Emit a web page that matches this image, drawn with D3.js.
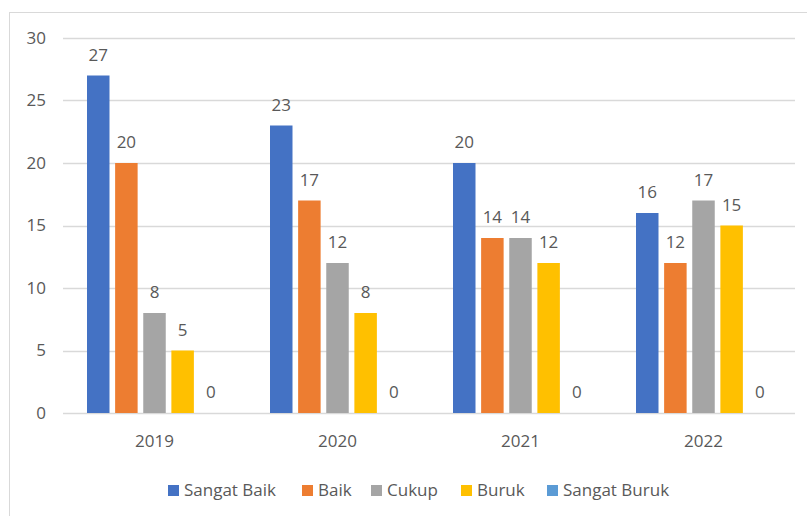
<!DOCTYPE html>
<html>
<head>
<meta charset="utf-8">
<script src="https://cdn.jsdelivr.net/npm/d3@7"></script>
<style>
  html, body { margin: 0; padding: 0; background: #fff; }
  svg { display: block; font-family: "Open Sans", sans-serif; }
</style>
</head>
<body>
<svg id="chart" width="807" height="516"></svg>
<script>
// chart data
const years = ['2019', '2020', '2021', '2022'];
const seriesNames = ['Sangat Baik', 'Baik', 'Cukup', 'Buruk', 'Sangat Buruk'];
const sangatBaik = [27, 23, 20, 16];
const baik = [20, 17, 14, 12];
const cukup = [8, 12, 14, 17];
const buruk = [5, 8, 12, 15];
const sangatBuruk = [0, 0, 0, 0];
const yTicks = [0, 5, 10, 15, 20, 25, 30];

const colors = ['#4472C4', '#ED7D31', '#A5A5A5', '#FFC000', '#5B9BD5'];
const seriesValues = [sangatBaik, baik, cukup, buruk, sangatBuruk];

const svg = d3.select('#chart');
const textColor = '#595959';
const gridColor = '#d9d9d9';

// outer chart frame (right/bottom edges fall outside the picture)
svg.append('rect')
  .attr('x', 9.5).attr('y', 12.5)
  .attr('width', 820).attr('height', 520)
  .attr('fill', 'none')
  .attr('stroke', gridColor);

const plot = { left: 63, right: 795, top: 38, bottom: 413 };

const x0 = d3.scaleBand()
  .domain(years)
  .range([plot.left, plot.right])
  .padding(0);

const x1 = d3.scaleBand()
  .domain(seriesNames)
  .range([24, x0.bandwidth() - 24])
  .paddingInner(0.2)
  .paddingOuter(0);

const y = d3.scaleLinear()
  .domain([0, 30])
  .range([plot.bottom, plot.top]);

// gridlines
svg.append('g')
  .selectAll('line')
  .data(yTicks)
  .enter()
  .append('line')
  .attr('x1', plot.left).attr('x2', plot.right)
  .attr('y1', d => Math.round(y(d)) + 0.5)
  .attr('y2', d => Math.round(y(d)) + 0.5)
  .attr('stroke', gridColor)
  .attr('stroke-width', 1.3);

// y axis labels
const yAxis = svg.append('g')
  .attr('transform', `translate(${plot.left - 17},0)`)
  .call(d3.axisLeft(y).tickValues(yTicks).tickSize(0).tickPadding(0));
yAxis.select('.domain').remove();
yAxis.selectAll('text')
  .attr('fill', textColor)
  .style('font-size', '17px')
  .style('font-family', '"Open Sans", sans-serif');

// x axis labels
const xAxis = svg.append('g')
  .attr('transform', `translate(0,${plot.bottom})`)
  .call(d3.axisBottom(x0).tickSize(0).tickPadding(22));
xAxis.select('.domain').remove();
xAxis.selectAll('text')
  .attr('fill', textColor)
  .style('font-size', '17px')
  .style('font-family', '"Open Sans", sans-serif');

// bars
const rows = [];
years.forEach((yr, i) => {
  seriesNames.forEach((s, j) => {
    rows.push({ year: yr, series: s, value: seriesValues[j][i], color: colors[j] });
  });
});

svg.append('g')
  .selectAll('rect')
  .data(rows)
  .enter()
  .append('rect')
  .attr('x', d => x0(d.year) + x1(d.series))
  .attr('y', d => y(d.value))
  .attr('width', x1.bandwidth())
  .attr('height', d => y(0) - y(d.value))
  .attr('fill', d => d.color);

// data labels
svg.append('g')
  .selectAll('text')
  .data(rows)
  .enter()
  .append('text')
  .attr('x', d => x0(d.year) + x1(d.series) + x1.bandwidth() / 2)
  .attr('y', d => y(d.value) - 15)
  .attr('text-anchor', 'middle')
  .attr('fill', textColor)
  .style('font-size', '17px')
  .text(d => d.value);

// legend
const legendX = [168, 302, 371, 461, 547];
const legend = svg.append('g');
seriesNames.forEach((s, j) => {
  legend.append('rect')
    .attr('x', legendX[j]).attr('y', 485)
    .attr('width', 11).attr('height', 11)
    .attr('fill', colors[j]);
  legend.append('text')
    .attr('x', legendX[j] + 16).attr('y', 496)
    .attr('fill', textColor)
    .style('font-size', '17px')
    .text(s);
});
</script>
</body>
</html>
